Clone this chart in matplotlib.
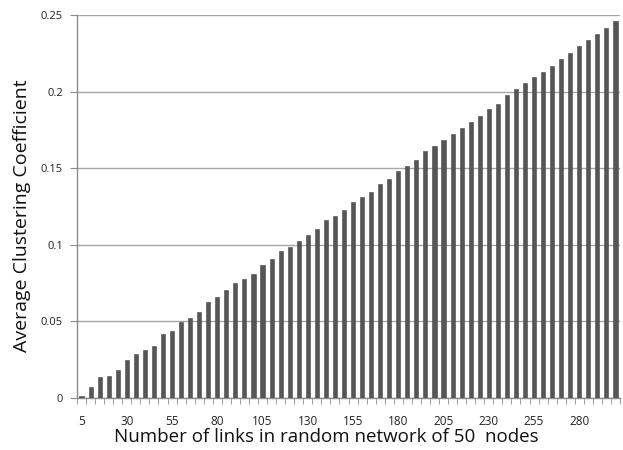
import matplotlib
matplotlib.use("Agg")
import matplotlib.pyplot as plt
import numpy as np

links = list(range(5, 305, 5))
clustering = [0.001, 0.007, 0.0135, 0.0145, 0.018, 0.025, 0.0287, 0.0313, 0.034, 0.0415,
              0.0437, 0.0496, 0.0522, 0.0561, 0.0625, 0.0659, 0.0705, 0.0749, 0.0775, 0.081,
              0.087, 0.0907, 0.0961, 0.0986, 0.1025, 0.1064, 0.1103, 0.1162, 0.119, 0.1227,
              0.128, 0.1314, 0.1345, 0.1399, 0.143, 0.148, 0.1512, 0.1556, 0.161, 0.1645,
              0.1684, 0.1721, 0.1762, 0.1804, 0.1843, 0.1888, 0.1917, 0.1978, 0.2015, 0.2058,
              0.2093, 0.213, 0.2167, 0.2211, 0.2252, 0.2298, 0.2335, 0.2376, 0.2417, 0.2461]
yticks = [0, 0.05, 0.1, 0.15, 0.2, 0.25]
ytick_labels = ["0", "0.05", "0.1", "0.15", "0.2", "0.25"]

plt.rcParams['font.family'] = ['Open Sans', 'DejaVu Sans']

fig = plt.figure(figsize=(6.23, 4.5), dpi=100)
ax = fig.add_axes([77 / 623, 1 - 398 / 450, (620 - 77) / 623, (398 - 15) / 450])

x = np.arange(len(links))
ax.bar(x, clustering, width=0.45, color='#565656', edgecolor='#484848', linewidth=0.4, zorder=3)

ax.set_xlim(-0.5, len(links) - 0.5)
ax.set_ylim(0, 0.25)
ax.set_yticks(yticks)
ax.set_yticklabels(ytick_labels, fontsize=8, color='#222222')
ax.yaxis.grid(True, color='#a6a6a6', linewidth=1.0, zorder=0)

label_idx = x[::5]
ax.set_xticks(label_idx)
ax.set_xticklabels([str(links[i]) for i in label_idx], fontsize=8.5, color='#222222')
ax.set_xticks(np.arange(-0.5, len(links), 1.0), minor=True)
ax.tick_params(axis='x', which='major', length=0, pad=12)
ax.tick_params(axis='x', which='minor', length=4, color='#8c8c8c', direction='out')
ax.tick_params(axis='y', length=5, color='#8c8c8c', direction='out', pad=5)

for s in ['top', 'right']:
    ax.spines[s].set_visible(False)
for s in ['left', 'bottom']:
    ax.spines[s].set_color('#8c8c8c')
    ax.spines[s].set_linewidth(1.0)

ax.set_xlabel("Number of links in random network of 50  nodes", fontsize=13.5, color='#111111')
ax.set_ylabel("Average Clustering Coefficient", fontsize=14, color='#111111')
ax.xaxis.set_label_coords(0.46, -0.078)
ax.yaxis.set_label_coords(-0.085, 0.475)

fig.savefig("out.png", dpi=100)
